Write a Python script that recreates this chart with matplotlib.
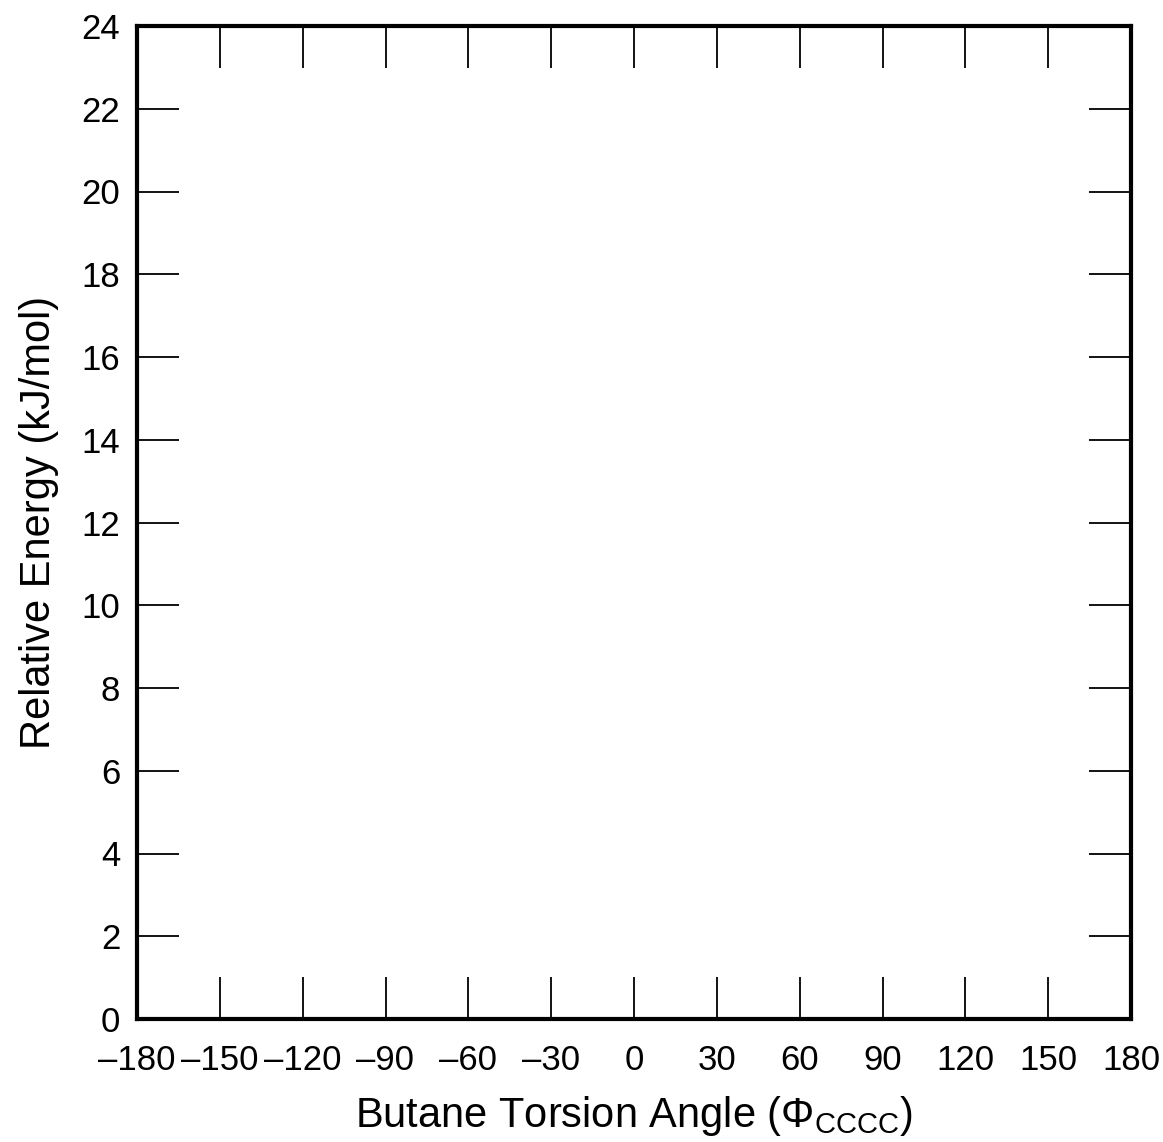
import matplotlib
matplotlib.use("Agg")
import matplotlib.pyplot as plt

plt.rcParams['font.family'] = ['Liberation Sans', 'DejaVu Sans']
plt.rcParams['mathtext.fontset'] = 'custom'
plt.rcParams['mathtext.rm'] = 'Liberation Sans'
plt.rcParams['mathtext.it'] = 'Liberation Sans'

x_ticks = [-180, -150, -120, -90, -60, -30, 0, 30, 60, 90, 120, 150, 180]
x_labels = ['–180', '–150', '–120', '–90', '–60', '–30', '0', '30', '60', '90', '120', '150', '180']
y_ticks = [0, 2, 4, 6, 8, 10, 12, 14, 16, 18, 20, 22, 24]
y_labels = [str(v) for v in y_ticks]

fig = plt.figure(figsize=(11.63, 11.42), dpi=100)
ax = fig.add_axes([137/1163, 1 - 1019/1142, (1131 - 137)/1163, (1019 - 26)/1142])
ax.set_xlim(-180, 180)
ax.set_ylim(0, 24)
ax.set_xticks(x_ticks)
ax.set_xticklabels(x_labels)
ax.set_yticks(y_ticks)
ax.set_yticklabels(y_labels)
ax.tick_params(direction='in', length=30, width=1.3, top=True, right=True,
               labelsize=25, color='black')
ax.tick_params(axis='x', pad=18)
ax.tick_params(axis='y', pad=12)
for s in ax.spines.values():
    s.set_linewidth(3)
ax.set_xlabel(r'Butane Torsion Angle ($\Phi_{\mathrm{CCCC}}$)', fontsize=30, labelpad=12)
ax.set_ylabel('Relative Energy (kJ/mol)', fontsize=30, labelpad=16)
fig.savefig('out.png', dpi=100)
